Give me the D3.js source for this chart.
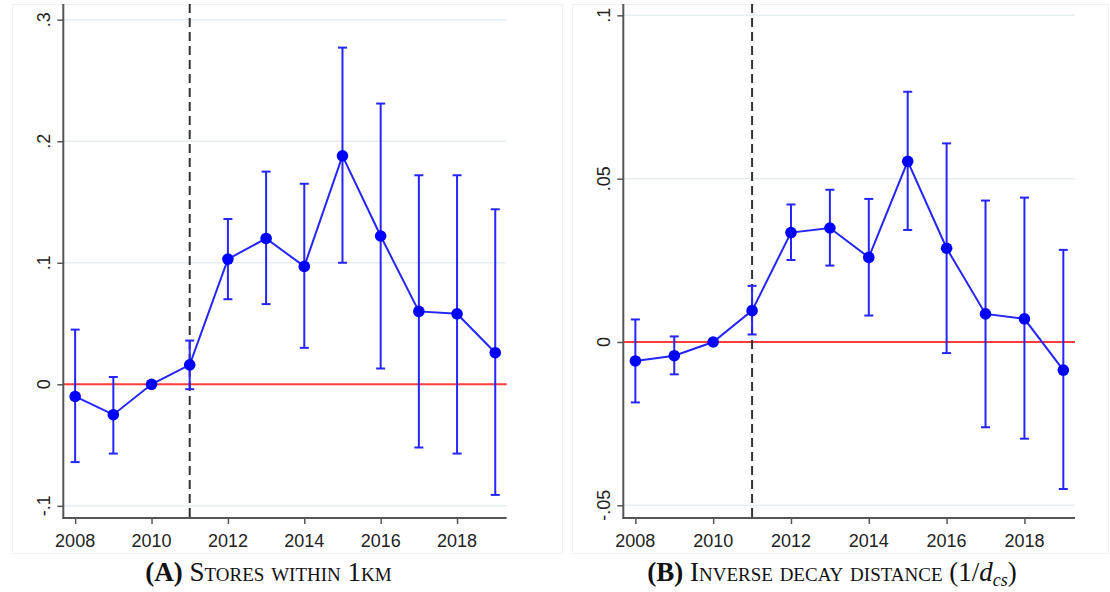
<!DOCTYPE html>
<html>
<head>
<meta charset="utf-8">
<script src="https://cdn.jsdelivr.net/npm/d3@7/dist/d3.min.js"></script>
<style>
  html, body { margin: 0; padding: 0; background: #fff; }
  svg { display: block; }
  .tick-label { font-family: Arial, "Liberation Sans", sans-serif; font-size: 18px; fill: #222; }
  .caption { font-family: "Liberation Serif", "DejaVu Serif", serif; font-size: 27px; fill: #111; font-variant: small-caps; }
</style>
</head>
<body>
<svg id="chart" width="1110" height="592"></svg>
<script>
// Event-study years
const years = [2008, 2009, 2010, 2011, 2012, 2013, 2014, 2015, 2016, 2017, 2018, 2019];

// Panel A: stores within 1km — coefficient and 95% CI
const storesCoef  = [-0.010, -0.025, 0, 0.016, 0.103, 0.120, 0.097, 0.188, 0.122, 0.060, 0.058, 0.026];
const storesLower = [-0.064, -0.057, 0, -0.004, 0.070, 0.066, 0.030, 0.100, 0.013, -0.052, -0.057, -0.091];
const storesUpper = [0.045, 0.006, 0, 0.036, 0.136, 0.175, 0.165, 0.277, 0.231, 0.172, 0.172, 0.144];

// Panel B: inverse decay distance — coefficient and 95% CI
const decayCoef  = [-0.0058, -0.0042, 0, 0.0096, 0.0335, 0.0349, 0.0259, 0.0553, 0.0287, 0.0086, 0.0071, -0.0086];
const decayLower = [-0.0185, -0.0099, 0, 0.0023, 0.0251, 0.0234, 0.0081, 0.0343, -0.0034, -0.0261, -0.0296, -0.0450];
const decayUpper = [0.0069, 0.0017, 0, 0.0172, 0.0421, 0.0466, 0.0438, 0.0766, 0.0608, 0.0433, 0.0442, 0.0282];

// Axis ticks
const xTicks = [2008, 2010, 2012, 2014, 2016, 2018];
const storesTicks = [0.3, 0.2, 0.1, 0, -0.1];
const storesTickLabels = [".3", ".2", ".1", "0", "-.1"];
const decayTicks = [0.1, 0.05, 0, -0.05];
const decayTickLabels = [".1", ".05", "0", "-.05"];

const treatmentYear = 2011;

const svg = d3.select("#chart");
const SW = 2;

function panel(cfg) {
  const g = svg.append("g");
  const x = d3.scaleLinear().domain([2007.69, 2019.3]).range([cfg.left, cfg.right]);
  const y = d3.scaleLinear().domain(cfg.yDomain).range([cfg.bottom, cfg.top]);

  // graph region outline
  g.append("rect")
    .attr("x", cfg.box[0] + 0.5).attr("y", cfg.box[1] + 0.5)
    .attr("width", cfg.box[2] - cfg.box[0]).attr("height", cfg.box[3] - cfg.box[1])
    .attr("fill", "none").attr("stroke", "#eef2f4").attr("stroke-width", 1);

  // gridlines
  g.selectAll(".grid").data(cfg.ticks.filter(t => t !== 0)).join("line")
    .attr("x1", cfg.left).attr("x2", cfg.right)
    .attr("y1", d => y(d)).attr("y2", d => y(d))
    .attr("stroke", "#e6eef1").attr("stroke-width", 1.5);

  // zero reference line
  g.append("line")
    .attr("x1", cfg.left).attr("x2", cfg.right)
    .attr("y1", y(0)).attr("y2", y(0))
    .attr("stroke", "#ff3b3b").attr("stroke-width", SW);

  // treatment year marker
  g.append("line")
    .attr("x1", x(treatmentYear)).attr("x2", x(treatmentYear))
    .attr("y1", cfg.top).attr("y2", cfg.bottom)
    .attr("stroke", "#333").attr("stroke-width", SW)
    .attr("stroke-dasharray", "9,5");

  // y axis
  const yAxis = d3.axisLeft(y).tickValues(cfg.ticks).tickSize(6).tickFormat("");
  const ya = g.append("g").attr("transform", `translate(${cfg.left},0)`).call(yAxis);
  ya.select(".domain").attr("stroke", "#555").attr("stroke-width", SW)
    .attr("d", `M0,${cfg.top}V${cfg.bottom}`);
  ya.selectAll(".tick line").attr("stroke", "#555").attr("stroke-width", 1.5);

  g.selectAll(".ylab").data(cfg.ticks).join("text")
    .attr("class", "tick-label")
    .attr("transform", (d) => `translate(${cfg.left - 13},${y(d)}) rotate(-90)`)
    .attr("text-anchor", "middle")
    .text((d, i) => cfg.tickLabels[i]);

  // x axis
  const xAxis = d3.axisBottom(x).tickValues(xTicks).tickSize(6).tickFormat("");
  const xa = g.append("g").attr("transform", `translate(0,${cfg.bottom})`).call(xAxis);
  xa.select(".domain").attr("stroke", "#555").attr("stroke-width", SW)
    .attr("d", `M${cfg.left - 1},0H${cfg.right}`);
  xa.selectAll(".tick line").attr("stroke", "#555").attr("stroke-width", 1.5);

  g.selectAll(".xlab").data(xTicks).join("text")
    .attr("class", "tick-label")
    .attr("x", d => x(d)).attr("y", cfg.bottom + 29)
    .attr("text-anchor", "middle")
    .text(d => d);

  const rows = years.map((yr, i) => ({ yr, c: cfg.coef[i], lo: cfg.lower[i], hi: cfg.upper[i] }));
  const blue = "#2525ff";

  // confidence intervals
  const ci = g.selectAll(".ci").data(rows.filter(r => r.hi !== r.lo)).join("g");
  ci.append("line")
    .attr("x1", r => x(r.yr)).attr("x2", r => x(r.yr))
    .attr("y1", r => y(r.lo)).attr("y2", r => y(r.hi))
    .attr("stroke", blue).attr("stroke-width", SW);
  ci.append("line")
    .attr("x1", r => x(r.yr) - 4.5).attr("x2", r => x(r.yr) + 4.5)
    .attr("y1", r => y(r.lo)).attr("y2", r => y(r.lo))
    .attr("stroke", blue).attr("stroke-width", SW);
  ci.append("line")
    .attr("x1", r => x(r.yr) - 4.5).attr("x2", r => x(r.yr) + 4.5)
    .attr("y1", r => y(r.hi)).attr("y2", r => y(r.hi))
    .attr("stroke", blue).attr("stroke-width", SW);

  // coefficient path
  g.append("path").datum(rows)
    .attr("d", d3.line().x(r => x(r.yr)).y(r => y(r.c)))
    .attr("fill", "none").attr("stroke", blue).attr("stroke-width", SW);

  g.selectAll(".pt").data(rows).join("circle")
    .attr("cx", r => x(r.yr)).attr("cy", r => y(r.c)).attr("r", 5.8)
    .attr("fill", "#0000ff");

  return g;
}

panel({
  left: 63.3, right: 506.7, top: 4, bottom: 518,
  yDomain: [-0.1100, 0.3129],
  box: [12, 4, 562, 553],
  ticks: storesTicks, tickLabels: storesTickLabels,
  coef: storesCoef, lower: storesLower, upper: storesUpper
});

panel({
  left: 623.3, right: 1075, top: 4, bottom: 518,
  yDomain: [-0.05388, 0.10347],
  box: [572, 4, 1108, 553],
  ticks: decayTicks, tickLabels: decayTickLabels,
  coef: decayCoef, lower: decayLower, upper: decayUpper
});

// captions
const capA = svg.append("text").attr("class", "caption")
  .attr("x", 268.5).attr("y", 581).attr("text-anchor", "middle");
capA.append("tspan").attr("font-weight", "bold").text("(A)");
capA.append("tspan").text(" Stores within 1km");

const capB = svg.append("text").attr("class", "caption")
  .attr("x", 832).attr("y", 581).attr("text-anchor", "middle");
capB.append("tspan").attr("font-weight", "bold").text("(B)");
capB.append("tspan").text(" Inverse decay distance (1/");
capB.append("tspan").attr("font-style", "italic").attr("font-variant", "normal").text("d");
capB.append("tspan").attr("font-style", "italic").attr("font-variant", "normal")
  .attr("font-size", "18px").attr("dy", 5).text("cs");
capB.append("tspan").attr("dy", -5).text(")");
</script>
</body>
</html>
